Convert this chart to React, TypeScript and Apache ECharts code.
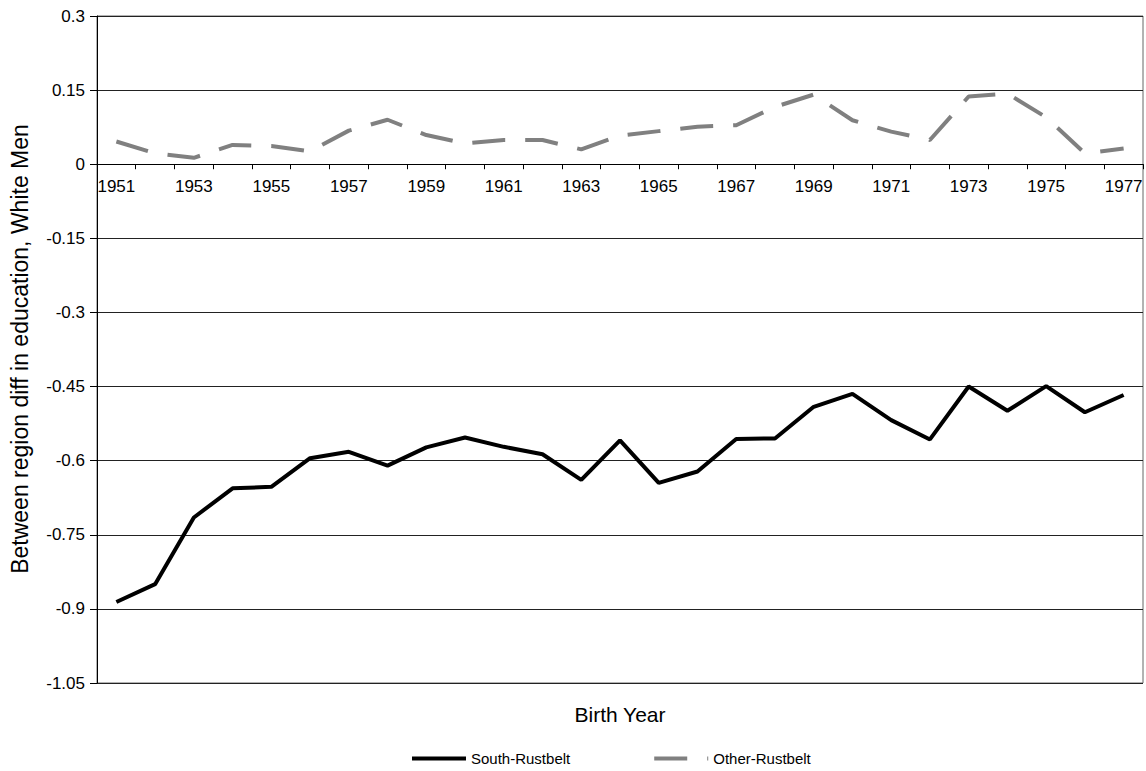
import React, { useEffect, useRef } from "react";
import * as echarts from "echarts";

const years = [
  "1951", "1952", "1953", "1954", "1955", "1956", "1957", "1958", "1959",
  "1960", "1961", "1962", "1963", "1964", "1965", "1966", "1967", "1968",
  "1969", "1970", "1971", "1972", "1973", "1974", "1975", "1976", "1977",
];

const southRustbelt = [
  -0.886, -0.85, -0.715, -0.656, -0.653, -0.595, -0.582, -0.61, -0.573,
  -0.553, -0.572, -0.587, -0.639, -0.559, -0.645, -0.622, -0.556, -0.555,
  -0.491, -0.465, -0.518, -0.557, -0.45, -0.499, -0.449, -0.502, -0.467,
];

const otherRustbelt = [
  0.046, 0.022, 0.013, 0.039, 0.037, 0.026, 0.068, 0.09, 0.059,
  0.042, 0.049, 0.049, 0.03, 0.058, 0.067, 0.076, 0.079, 0.116,
  0.141, 0.089, 0.066, 0.049, 0.137, 0.143, 0.095, 0.022, 0.032,
];

const seriesNames = ["South-Rustbelt", "Other-Rustbelt"];
const yTitle = "Between region diff in education, White Men";
const xTitle = "Birth Year";

const Y_MIN = -1.05;
const Y_MAX = 0.3;
const Y_STEP = 0.15;

const FONT = "'Liberation Sans', Arial, Helvetica, sans-serif";

const GRID_TOP = 16;
const GRID_BOTTOM = 88;
const CHART_H = 771;

export default function App() {
  const ref = useRef<HTMLDivElement>(null);

  useEffect(() => {
    document.body.style.margin = "0";
    if (!ref.current) return;
    const chart = echarts.init(ref.current, undefined, { renderer: "svg" });
    const plotH = CHART_H - GRID_TOP - GRID_BOTTOM;
    const zeroY = GRID_TOP + plotH * (Y_MAX / (Y_MAX - Y_MIN));
    const xOffset = -(CHART_H - GRID_BOTTOM - zeroY);
    chart.setOption({
      animation: false,
      backgroundColor: "#fff",
      textStyle: { fontFamily: FONT },
      grid: {
        left: 97,
        right: 3,
        top: GRID_TOP,
        bottom: GRID_BOTTOM,
        show: true,
        borderColor: "#666",
        borderWidth: 1,
        backgroundColor: "transparent",
      },
      xAxis: {
        type: "category",
        data: years,
        boundaryGap: true,
        offset: xOffset,
        axisLine: { onZero: false, lineStyle: { color: "#000", width: 1 } },
        axisTick: { show: true, length: 5, interval: 0, alignWithLabel: false, lineStyle: { color: "#000" } },
        axisLabel: {
          interval: 1,
          margin: 14,
          color: "#000",
          fontSize: 17,
          fontFamily: FONT,
        },
        splitLine: { show: false },
      },
      yAxis: {
        type: "value",
        min: Y_MIN,
        max: Y_MAX,
        interval: Y_STEP,
        axisLine: { show: true, lineStyle: { color: "#000", width: 1 } },
        axisTick: { show: true, length: 7, inside: false, lineStyle: { color: "#000" } },
        axisLabel: {
          margin: 12,
          color: "#000",
          fontSize: 17,
          fontFamily: FONT,
          formatter: (v: number) => String(Number(v.toFixed(2))),
        },
        splitLine: { show: true, lineStyle: { color: "#222", width: 1 } },
      },
      legend: {
        left: 410,
        top: 751,
        padding: 0,
        itemWidth: 54,
        itemHeight: 14,
        itemGap: 82,
        itemTextGap: 1,
        itemStyle: { opacity: 0 },
        lineStyle: { width: 4 },
        textStyle: { color: "#000", fontSize: 15, fontFamily: FONT },
        data: seriesNames,
      },
      graphic: [
        {
          type: "text",
          x: 20,
          y: 349,
          rotation: Math.PI / 2,
          style: {
            text: yTitle,
            fontSize: 23,
            fontFamily: FONT,
            fill: "#000",
            textAlign: "center",
            textVerticalAlign: "middle",
          },
        },
        {
          type: "text",
          x: 620,
          y: 714,
          style: {
            text: xTitle,
            fontSize: 21,
            fontFamily: FONT,
            fill: "#000",
            textAlign: "center",
            textVerticalAlign: "middle",
          },
        },
      ],
      series: [
        {
          name: seriesNames[0],
          type: "line",
          data: southRustbelt,
          symbol: "none",
          lineStyle: { color: "#000", width: 4 },
          itemStyle: { color: "#000" },
        },
        {
          name: seriesNames[1],
          type: "line",
          data: otherRustbelt,
          symbol: "none",
          lineStyle: { color: "#808080", width: 4, type: [33, 20] },
          itemStyle: { color: "#808080" },
        },
      ],
    });
    return () => chart.dispose();
  }, []);

  return <div ref={ref} style={{ width: 1146, height: 771 }} />;
}
